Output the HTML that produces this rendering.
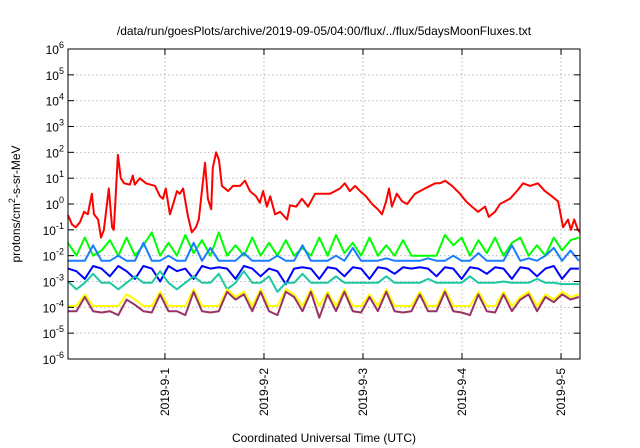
<!DOCTYPE html>
<html><head><meta charset="utf-8"><style>
html,body{margin:0;padding:0;background:#fff;}
svg{display:block;font-family:"Liberation Sans",sans-serif;}
</style></head><body>
<svg id="chart" width="640" height="448" viewBox="0 0 640 448" xmlns="http://www.w3.org/2000/svg">
<text x="324" y="35" font-size="12" text-anchor="middle" fill="#000">/data/run/goesPlots/archive/2019-09-05/04:00/flux/../flux/5daysMoonFluxes.txt</text>
<text x="324" y="442" font-size="12" text-anchor="middle" fill="#000">Coordinated Universal Time (UTC)</text>
<text transform="translate(20,204) rotate(-90)" font-size="12" text-anchor="middle" fill="#000">protons/cm<tspan dy="-5" font-size="9">2</tspan><tspan dy="5">-s-sr-MeV</tspan></text>
<g id="grid"></g><g id="series"></g><g id="axes"></g>
</svg>
<script>
// ---- data ----
const dayTickHours = [0, 24, 48, 72, 96];
const dayTickLabels = ["2019-9-1", "2019-9-2", "2019-9-3", "2019-9-4", "2019-9-5"];
const yTickExponents = [-6,-5,-4,-3,-2,-1,0,1,2,3,4,5,6];
// red series: hours since 2019-09-01 00:00 and log10 flux
const redHours = [-23.5,-22.5,-21.6,-20.6,-19.6,-18.7,-17.7,-17.2,-16.2,-15.5,-14.8,-13.6,-12.8,-12.4,-11.4,-10.7,-9.9,-8.5,-7.8,-7.3,-6.1,-4.6,-2.4,-1.2,-0.5,0.2,1.2,2.2,2.9,3.6,4.4,5.6,6.5,7.5,8.2,9.7,10.4,11.2,11.6,12.4,13.1,13.8,15.3,16.5,18.2,19.4,20.6,22.1,23.0,23.8,24.7,25.5,26.7,27.9,29.6,30.3,31.8,33.2,34.7,36.4,37.6,40.0,42.4,43.6,44.8,46.1,47.3,48.7,50.2,51.6,52.6,53.6,54.3,55.0,56.2,57.5,58.7,60.6,63.0,65.5,66.7,67.9,69.6,71.5,73.0,74.4,75.9,77.6,78.5,80.0,81.2,83.6,85.3,86.8,88.5,90.4,92.1,93.8,95.3,96.5,97.7,98.4,99.2,100.1,100.6];
const redLog10 = [-0.43,-0.8,-0.9,-0.7,-0.3,-0.4,0.4,-0.4,-0.6,-1.3,-1.0,0.6,-0.9,-1.0,1.9,1.0,0.8,0.75,1.1,0.75,1.0,0.8,0.7,0.3,0.2,0.6,-0.4,0.1,0.5,0.4,0.6,-0.5,-1.1,-0.9,-0.6,1.6,0.2,-0.2,1.4,2.0,1.7,0.7,0.5,0.7,0.7,0.9,0.5,0.3,0.05,0.5,-0.1,0.3,-0.4,-0.3,-0.6,-0.05,-0.1,0.2,-0.1,0.4,0.4,0.4,0.6,0.8,0.5,0.7,0.5,0.3,0.0,-0.2,-0.4,0.1,0.6,-0.1,0.4,0.1,0.0,0.4,0.6,0.8,0.8,0.9,0.7,0.4,0.1,-0.1,-0.3,-0.1,-0.5,-0.3,0.0,0.2,0.5,0.8,0.7,0.8,0.5,0.3,0.1,-0.9,-0.6,-1.0,-0.6,-1.0,-1.1];
// other series sampled on a regular time grid
const gridStartHour = -23.5;
const gridStepHours = 2.03;
const greenLog10 = [-1.5,-2,-1.3,-2,-1.8,-1.4,-2,-1.3,-2,-1.6,-1.1,-2,-1.5,-2,-1.2,-1.9,-1.4,-2,-1.1,-2,-1.6,-2,-1.3,-2,-1.5,-2,-1.4,-2,-1.7,-2,-1.3,-2,-1.2,-1.9,-1.5,-2,-1.3,-2,-1.6,-2,-1.4,-2,-2,-2,-2,-1.2,-1.6,-1.3,-2,-1.4,-1.9,-1.3,-2,-1.5,-1.3,-2,-1.6,-2,-1.3,-1.8,-1.4,-1.3];
const lightBlueLog10 = [-2.2,-2.2,-2.2,-1.6,-2.2,-2.2,-2.0,-2.2,-2.2,-1.5,-2.2,-2.2,-2.0,-2.2,-2.2,-1.5,-2.2,-1.7,-2.2,-2.2,-2.2,-1.9,-2.2,-2.2,-2.2,-2.0,-2.2,-2.2,-1.6,-2.2,-2.2,-2.2,-2.0,-2.2,-1.7,-2.2,-2.2,-2.2,-2.1,-2.2,-2.2,-2.2,-2.2,-2.1,-2.2,-2.2,-2.0,-2.2,-2.2,-1.9,-2.2,-2.2,-2.2,-1.6,-2.2,-2.1,-2.2,-2.0,-1.7,-2.2,-1.8,-2.2];
const blueLog10 = [-2.5,-2.6,-2.9,-2.4,-2.5,-2.8,-2.4,-2.6,-2.9,-2.4,-2.5,-3.0,-2.4,-2.6,-2.5,-2.9,-2.4,-2.5,-2.45,-2.5,-2.9,-2.4,-2.5,-2.8,-2.5,-2.6,-3.1,-2.5,-2.45,-2.5,-2.9,-2.45,-2.5,-2.8,-2.45,-2.5,-2.9,-2.45,-2.5,-2.7,-2.45,-2.5,-2.45,-2.5,-2.8,-2.45,-2.5,-2.9,-2.45,-2.5,-2.7,-2.45,-2.5,-2.9,-2.45,-2.5,-2.8,-2.5,-2.4,-2.9,-2.5,-2.5];
const tealLog10 = [-3.0,-3.3,-3.05,-2.7,-3.05,-3.05,-3.3,-3.05,-2.8,-3.05,-3.05,-2.6,-3.05,-3.3,-3.05,-2.8,-3.05,-3.05,-2.7,-3.3,-3.05,-2.6,-3.05,-3.05,-2.8,-3.4,-3.05,-3.05,-2.7,-3.05,-3.05,-3.05,-2.8,-3.05,-3.05,-3.05,-3.05,-3.05,-2.8,-3.05,-3.05,-3.05,-3.05,-2.9,-3.05,-3.05,-3.05,-3.05,-2.8,-3.05,-3.05,-3.05,-3.0,-3.05,-3.05,-3.05,-2.9,-3.05,-3.05,-3.1,-3.1,-3.1];
const yellowLog10 = [-3.95,-3.95,-3.5,-3.95,-3.95,-3.95,-3.95,-3.5,-3.7,-3.95,-3.95,-3.4,-3.95,-3.95,-3.95,-3.3,-3.95,-3.95,-3.95,-3.3,-3.6,-3.4,-3.95,-3.3,-3.95,-3.95,-3.3,-3.5,-3.95,-3.3,-3.95,-3.4,-3.95,-3.3,-3.95,-3.95,-3.5,-3.95,-3.3,-3.95,-3.95,-3.95,-3.4,-3.95,-3.95,-3.3,-3.95,-3.95,-3.95,-3.4,-3.95,-3.95,-3.4,-3.95,-3.6,-3.4,-3.95,-3.5,-3.7,-3.4,-3.6,-3.5];
const purpleLog10 = [-4.15,-4.15,-3.6,-4.15,-4.2,-4.15,-4.3,-3.7,-3.9,-4.15,-4.2,-3.5,-4.15,-4.15,-4.3,-3.4,-4.15,-4.2,-4.15,-3.4,-3.7,-3.5,-4.15,-3.4,-4.15,-4.3,-3.4,-3.6,-4.15,-3.4,-4.4,-3.5,-4.15,-3.4,-4.15,-4.2,-3.6,-4.15,-3.4,-4.15,-4.2,-4.15,-3.5,-4.15,-4.15,-3.4,-4.15,-4.2,-4.3,-3.5,-4.15,-4.2,-3.5,-4.15,-3.7,-3.5,-4.15,-3.6,-3.8,-3.5,-3.7,-3.6];

// ---- layout ----
const NS = "http://www.w3.org/2000/svg";
const L = 68, R = 580, T = 49, B = 359;
const xMin = -23.5, xMax = 100.6, yMin = -6, yMax = 6;
function xs(h){ return L + (h - xMin) / (xMax - xMin) * (R - L); }
function ys(e){ return B - (e - yMin) / (yMax - yMin) * (B - T); }
function mk(tag, attrs, parent){ const el = document.createElementNS(NS, tag); for (const k in attrs) el.setAttribute(k, attrs[k]); parent.appendChild(el); return el; }
const grid = document.getElementById('grid'), axes = document.getElementById('axes'), series = document.getElementById('series');

yTickExponents.forEach(e => {
  const y = ys(e);
  if (e > yMin && e < yMax) {
    const g = mk('line', {x1:L, x2:R, y1:y, y2:y, stroke:'#bbb', 'stroke-width':1, 'stroke-dasharray':'1.5,2.5'}, grid);
    
    
  }
  const t1 = mk('line', {x1:L, x2:L+6, y1:y, y2:y, stroke:'#000'}, axes);
  
  
  const t2 = mk('line', {x1:R-6, x2:R, y1:y, y2:y, stroke:'#000'}, axes);
  
  
  const tx = mk('text', {x:L-4, y:y+5, 'font-size':12, 'text-anchor':'end', fill:'#000'}, axes);
  
  
  const base = document.createElementNS(NS, 'tspan'); base.textContent = '10'; tx.appendChild(base);
  const sup = document.createElementNS(NS, 'tspan'); sup.setAttribute('dy', '-6'); sup.setAttribute('font-size', '9'); sup.textContent = String(e); tx.appendChild(sup);
});
dayTickHours.forEach((h, i) => {
  const x = xs(h);
  const g = mk('line', {x1:x, x2:x, y1:T, y2:B, stroke:'#bbb', 'stroke-width':1, 'stroke-dasharray':'1.5,2.5'}, grid);
  
  
  const t1 = mk('line', {x1:x, x2:x, y1:B-6, y2:B, stroke:'#000'}, axes);
  
  
  const t2 = mk('line', {x1:x, x2:x, y1:T, y2:T+6, stroke:'#000'}, axes);
  
  
  const tx = mk('text', {transform:`translate(${x+4},368) rotate(-90)`, 'font-size':12, 'text-anchor':'end', fill:'#000'}, axes);
  
  
  tx.textContent = dayTickLabels[i];
});
const frame = mk('rect', {x:L, y:T, width:R-L, height:B-T, fill:'none', stroke:'#000', 'stroke-width':1}, axes);



function drawLine(hours, vals, color, name){
  const d = vals.map((v, i) => (i ? 'L' : 'M') + xs(hours[i]).toFixed(1) + ',' + ys(v).toFixed(1)).join('');
  const p = mk('path', {d:d, fill:'none', stroke:color, 'stroke-width':2, 'stroke-linejoin':'round'}, series);
  
  
}
function gridHours(n){ const a = []; for (let i = 0; i < n; i++) a.push(gridStartHour + i * gridStepHours); return a; }
drawLine(redHours, redLog10, '#ff0000', 'series-red');
drawLine(gridHours(greenLog10.length), greenLog10, '#00ff00', 'series-green');
drawLine(gridHours(lightBlueLog10.length), lightBlueLog10, '#1a7cff', 'series-light-blue');
drawLine(gridHours(blueLog10.length), blueLog10, '#0000ff', 'series-blue');
drawLine(gridHours(tealLog10.length), tealLog10, '#1ec8a0', 'series-teal');
drawLine(gridHours(yellowLog10.length), yellowLog10, '#ffff00', 'series-yellow');
drawLine(gridHours(purpleLog10.length), purpleLog10, '#993366', 'series-purple');
</script>
</body></html>
